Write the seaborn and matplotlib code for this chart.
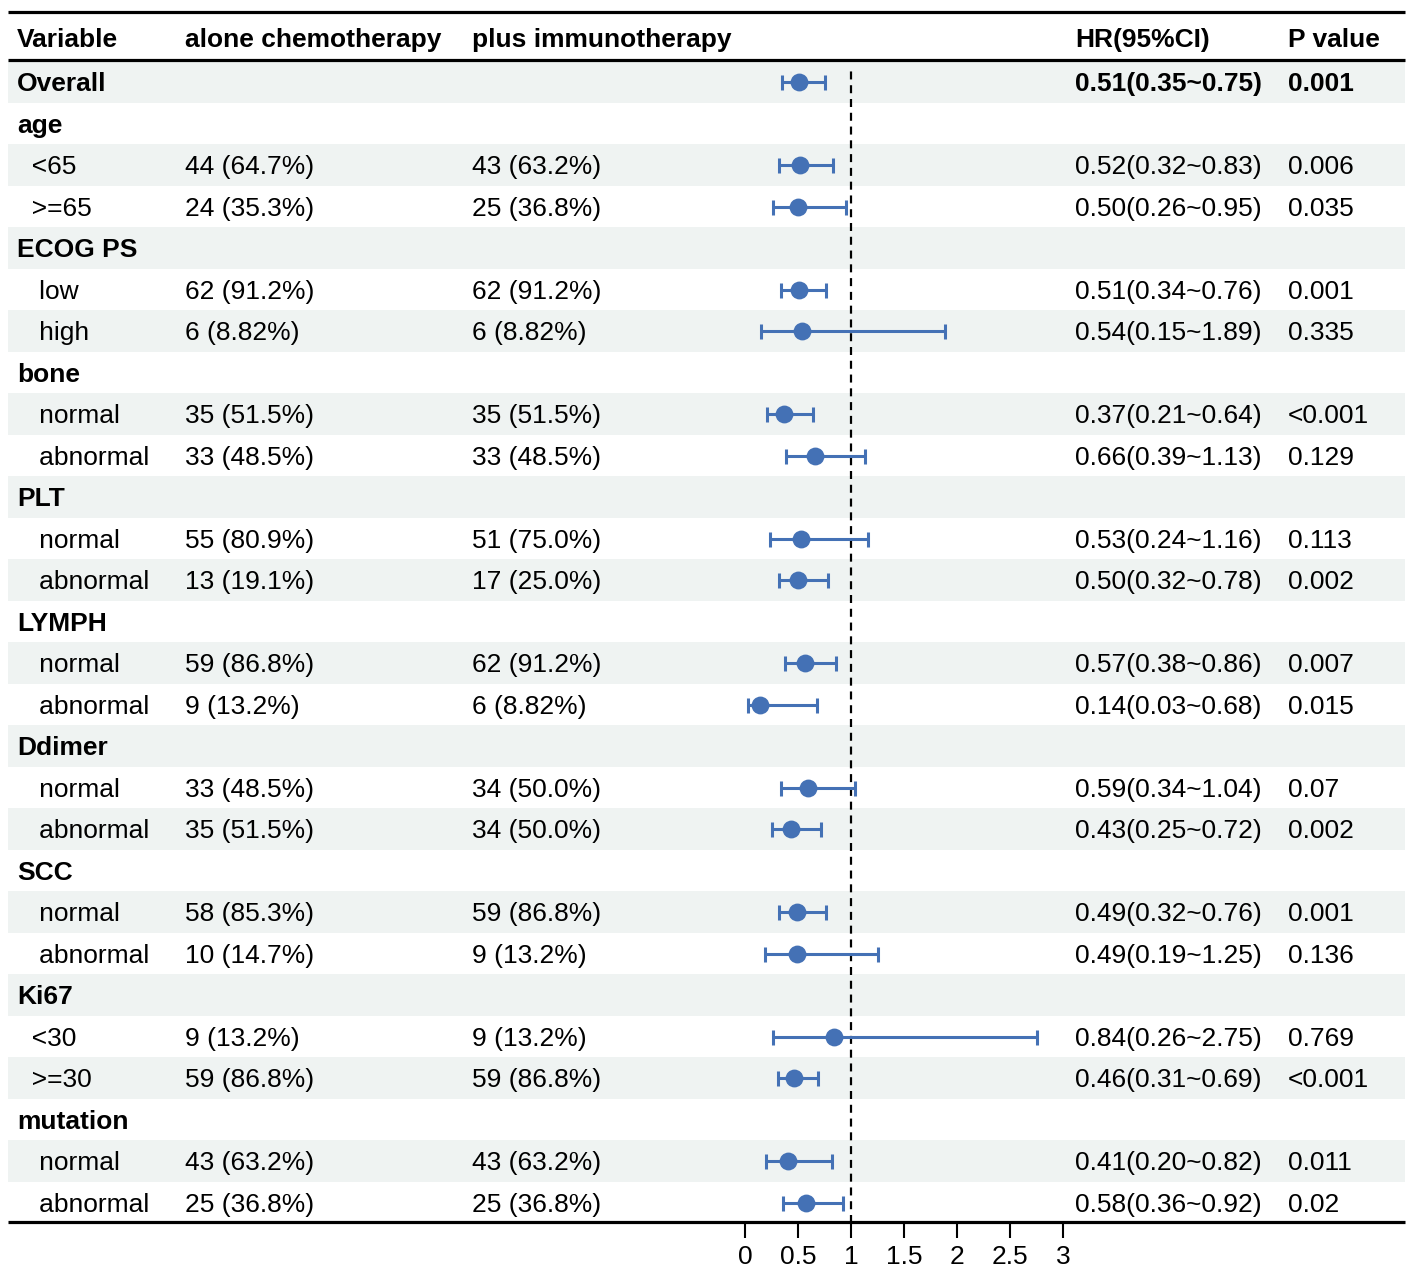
import seaborn as sns
import matplotlib.pyplot as plt
import numpy as np

# table content
variables = ["Overall", "age", "  <65", "  >=65", "ECOG PS", "   low", "   high",
             "bone", "   normal", "   abnormal", "PLT", "   normal", "   abnormal",
             "LYMPH", "   normal", "   abnormal", "Ddimer", "   normal", "   abnormal",
             "SCC", "   normal", "   abnormal", "Ki67", "  <30", "  >=30",
             "mutation", "   normal", "   abnormal"]
is_bold = [True, True, False, False, True, False, False, True, False, False, True, False, False,
           True, False, False, True, False, False, True, False, False, True, False, False,
           True, False, False]
alone_chemo = ["", "", "44 (64.7%)", "24 (35.3%)", "", "62 (91.2%)", "6 (8.82%)",
               "", "35 (51.5%)", "33 (48.5%)", "", "55 (80.9%)", "13 (19.1%)",
               "", "59 (86.8%)", "9 (13.2%)", "", "33 (48.5%)", "35 (51.5%)",
               "", "58 (85.3%)", "10 (14.7%)", "", "9 (13.2%)", "59 (86.8%)",
               "", "43 (63.2%)", "25 (36.8%)"]
plus_immuno = ["", "", "43 (63.2%)", "25 (36.8%)", "", "62 (91.2%)", "6 (8.82%)",
               "", "35 (51.5%)", "33 (48.5%)", "", "51 (75.0%)", "17 (25.0%)",
               "", "62 (91.2%)", "6 (8.82%)", "", "34 (50.0%)", "34 (50.0%)",
               "", "59 (86.8%)", "9 (13.2%)", "", "9 (13.2%)", "59 (86.8%)",
               "", "43 (63.2%)", "25 (36.8%)"]
nan = np.nan
hr = [0.51, nan, 0.52, 0.50, nan, 0.51, 0.54, nan, 0.37, 0.66, nan, 0.53, 0.50,
      nan, 0.57, 0.14, nan, 0.59, 0.43, nan, 0.49, 0.49, nan, 0.84, 0.46, nan, 0.41, 0.58]
hr_low = [0.35, nan, 0.32, 0.26, nan, 0.34, 0.15, nan, 0.21, 0.39, nan, 0.24, 0.32,
          nan, 0.38, 0.03, nan, 0.34, 0.25, nan, 0.32, 0.19, nan, 0.26, 0.31, nan, 0.20, 0.36]
hr_high = [0.75, nan, 0.83, 0.95, nan, 0.76, 1.89, nan, 0.64, 1.13, nan, 1.16, 0.78,
           nan, 0.86, 0.68, nan, 1.04, 0.72, nan, 0.76, 1.25, nan, 2.75, 0.69, nan, 0.82, 0.92]
p_values = ["0.001", "", "0.006", "0.035", "", "0.001", "0.335", "", "<0.001", "0.129",
            "", "0.113", "0.002", "", "0.007", "0.015", "", "0.07", "0.002", "",
            "0.001", "0.136", "", "0.769", "<0.001", "", "0.011", "0.02"]
headers = ["Variable", "alone chemotherapy", "plus immunotherapy", "HR(95%CI)", "P value"]
x_ticks = [0, 0.5, 1, 1.5, 2, 2.5, 3]

sns.set_theme(style="white")
plt.rcParams['font.family'] = ['Liberation Sans', 'DejaVu Sans']
plt.rcParams['text.color'] = 'black'
plt.rcParams['xtick.color'] = 'black'

W, H = 1417, 1276
fig = plt.figure(figsize=(W / 100, H / 100), dpi=100)
blue = "#4471b5"
fs = 19
dy = 0.05  # small nudge so text sits like the original

hr = np.array(hr)
hr_low = np.array(hr_low)
hr_high = np.array(hr_high)
rows = np.arange(len(variables))

# background axes: x in pixels, y in row units (row i centred at 82 + 41.5*i px)
ax = fig.add_axes([0, 0, 1, 1])
ax.set_xlim(0, W)
ax.set_ylim((H - 82) / 41.5, -82 / 41.5)
ax.axis("off")

for i in rows:
    if i % 2 == 0:
        ax.fill_between([8, 1405], i - 0.5, i + 0.5, color="#eff3f2", lw=0, zorder=0)

y_head = (38 - 82) / 41.5
for x, h in zip([17, 185, 472, 1075, 1288], headers):
    ax.text(x, y_head + dy, h, fontsize=fs, fontweight="bold", va="center", ha="left")

for line_y in [(12 - 82) / 41.5, (60 - 82) / 41.5, len(rows) - 0.53]:
    ax.plot([8, 1405], [line_y, line_y], color="black", lw=2.3, solid_capstyle="butt")

for i in rows:
    w = "bold" if is_bold[i] else "normal"
    ax.text(17, i + dy, variables[i], fontsize=fs, fontweight=w, va="center")
    ax.text(185, i + dy, alone_chemo[i], fontsize=fs, va="center")
    ax.text(472, i + dy, plus_immuno[i], fontsize=fs, va="center")
    if not np.isnan(hr[i]):
        w2 = "bold" if i == 0 else "normal"
        ax.text(1075, i + dy, f"{hr[i]:.2f}({hr_low[i]:.2f}~{hr_high[i]:.2f})",
                fontsize=fs, fontweight=w2, va="center")
        ax.text(1288, i + dy, p_values[i], fontsize=fs, fontweight=w2, va="center")

# forest column
top_px, bot_px = 82 - 20.75, 82 + 27.5 * 41.5
axf = fig.add_axes([745 / W, (H - bot_px) / H, 318 / W, (bot_px - top_px) / H])
axf.patch.set_alpha(0)
ok = ~np.isnan(hr)
axf.errorbar(hr[ok], rows[ok], xerr=[hr[ok] - hr_low[ok], hr_high[ok] - hr[ok]],
             fmt="none", ecolor=blue, elinewidth=2.2, capsize=5.4, capthick=2.2, zorder=2)
sns.scatterplot(x=hr[ok], y=rows[ok], ax=axf, color=blue, edgecolor=blue, s=165,
                linewidth=0, zorder=3, clip_on=False)
axf.axvline(1, ymax=0.995, color="black", lw=1.6, ls=(0, (3.6, 2.6)), zorder=1)
axf.set_xlim(0, 3)
axf.set_ylim(27.5, -0.5)
axf.set_xticks(x_ticks)
axf.set_xticklabels([f"{t:g}" for t in x_ticks])
axf.set_yticks([])
axf.set_xlabel("")
axf.set_ylabel("")
for s in axf.spines.values():
    s.set_visible(False)
axf.tick_params(axis="x", bottom=True, length=11, width=1.5, pad=5, labelsize=fs,
                direction="out", color="black", labelcolor="black")

fig.savefig("out.png", dpi=100)
